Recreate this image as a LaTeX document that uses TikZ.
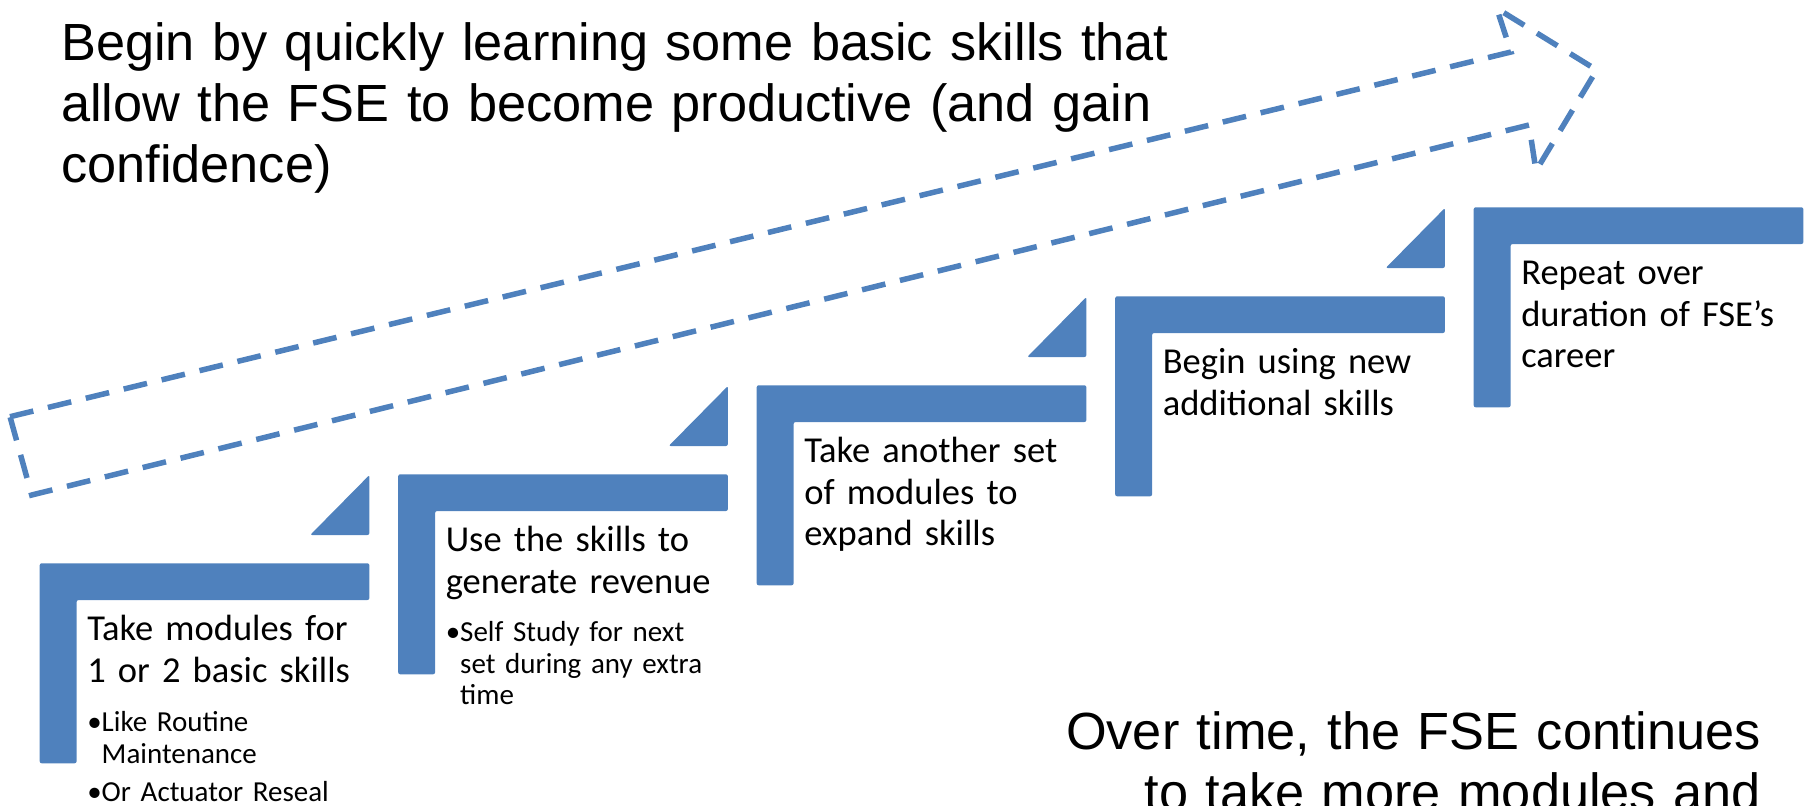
\documentclass[tikz,border=0pt]{standalone}
\usepackage{fontspec}
\setmainfont{Carlito}
\newfontfamily\arialfont{Liberation Sans}
\usetikzlibrary{positioning}
\definecolor{stepblue}{HTML}{4F81BD}
\tikzset{
  stepbar/.style={fill=stepblue, rounded corners=2pt},
  steptext/.style={anchor=base west, inner sep=0pt, text width=330pt, align=left, font=\fontsize{36.5}{41.5}\selectfont},
  bullettext/.style={anchor=base west, inner sep=0pt, text width=330pt, align=left, font=\fontsize{29}{31.6}\selectfont},
  bigtext/.style={inner sep=0pt, text width=1150pt, font=\arialfont\fontsize{52.3}{61}\selectfont},
  dasharrow/.style={draw=stepblue, line width=5.5pt, dash pattern=on 24pt off 15pt, line join=miter}
}
\begin{document}
\begin{tikzpicture}[x=1pt,y=-1pt]
\useasboundingbox (0,0) rectangle (1808,806);
\clip (0,0) rectangle (1808,806);
% dashed arrow
\coordinate (tailtop) at (10,416.7);
\coordinate (neckup) at (1511,52);
\coordinate (barbup) at (1496.7,8.3);
\coordinate (tip) at (1596.7,70);
\coordinate (barbdown) at (1536,170.7);
\coordinate (neckdown) at (1529,125);
\coordinate (tailbot) at (31.7,495);
\draw[dasharrow] (tailtop) -- (neckup) -- (barbup) -- (tip) -- (barbdown) -- (neckdown) -- (tailbot) -- cycle;
% steps
\foreach \i in {0,...,4}
  \fill[stepbar] ({39.7+358.5*\i},{563.3-89*\i}) -- ++(329.7,0) -- ++(0,36.7) -- ++(-292.8,0) -- ++(0,163.3) -- ++(-36.9,0) -- cycle;
\foreach \i in {0,...,3}
  \fill[stepbar] ({310.2+358.5*\i},{535-89*\i}) -- ++(59.2,-60) -- ++(0,60) -- cycle;
\foreach \i/\txt in {0/{Take modules for\\1 or 2 basic skills},
                    1/{Use the skills to\\generate revenue},
                    2/{Take another set\\of modules to\\expand skills},
                    3/{Begin using new\\additional skills},
                    4/{Repeat over\\duration of FSE’s\\career}}
  \node[steptext] (step\i) at ({87.1+358.5*\i},{640.5-89*\i}) {\txt};
\node[bullettext] (note0) at (87.1,731.7) {\textbullet Like Routine\\\hphantom{\textbullet}Maintenance\\[6.5pt]\textbullet Or Actuator Reseal};
\node[bullettext] (note1) at (445.6,641.7) {\textbullet Self Study for next\\\hphantom{\textbullet}set during any extra\\\hphantom{\textbullet}time};
% captions
\node[bigtext, anchor=base west, align=left] (intro) at (61,60) {Begin by quickly learning some basic skills that\\allow the FSE to become productive (and gain\\confidence)};
\node[bigtext, anchor=base east, align=right] (outro) at (1761,749.5) {Over time, the FSE continues\\to take more modules and};
\end{tikzpicture}
\end{document}
